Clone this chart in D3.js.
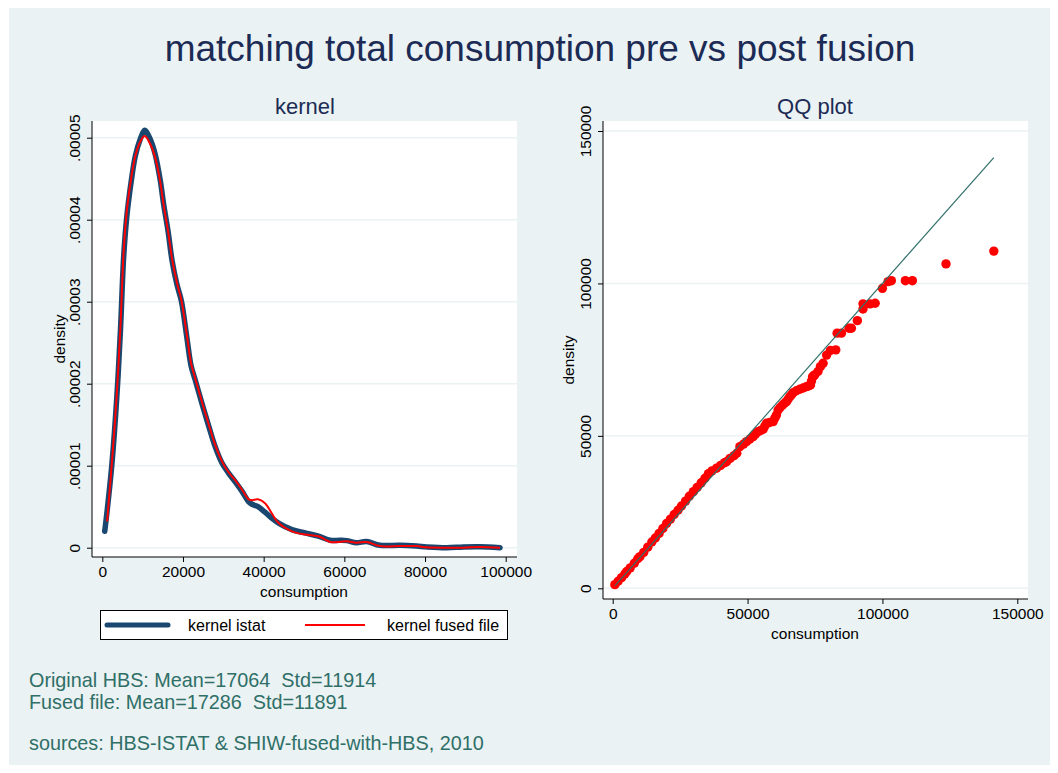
<!DOCTYPE html>
<html lang="en">
<head>
<meta charset="UTF-8">
<title>matching total consumption pre vs post fusion</title>
<script src="https://d3js.org/d3.v7.min.js"></script>
<style>
  body { margin: 0; background: #fff; }
  svg { font-family: "Liberation Sans", Arial, sans-serif; }
</style>
</head>
<body>
<script>
// kernel densities (x in consumption, y in density units of 1e-5)
var kernelX = [600, 1200, 2400, 3600, 4500, 5300, 6100, 7200, 8200, 9400, 10500, 11900, 13100, 14400, 15200,
  16300, 17300, 18500, 19600, 21000, 22000, 23000, 24700, 26400, 28000, 29700, 31300, 33000, 34600, 36300,
  37100, 38600, 40400, 42000, 43700, 47000, 50300, 53600, 56500, 58900, 60600, 63000, 65500, 68800, 73800,
  77900, 80400, 85400, 89500, 93600, 98600];
var istatDens = [0.20, 0.45, 1.03, 1.84, 2.65, 3.55, 4.05, 4.48, 4.78, 4.98, 5.09, 4.98, 4.80, 4.47, 4.19,
  3.86, 3.50, 3.21, 3.01, 2.55, 2.22, 2.05, 1.76, 1.48, 1.23, 1.03, 0.91, 0.80, 0.69, 0.56,
  0.53, 0.50, 0.43, 0.36, 0.30, 0.22, 0.18, 0.14, 0.09, 0.09, 0.086, 0.06, 0.075, 0.03, 0.03,
  0.02, 0.01, 0.0, 0.01, 0.012, 0.0];
var fusedDens = [null, 0.32, 1.05, 1.88, 2.70, 3.62, 4.12, 4.52, 4.78, 4.95, 5.02, 4.92, 4.76, 4.45, 4.18,
  3.86, 3.52, 3.23, 3.02, 2.58, 2.25, 2.07, 1.78, 1.50, 1.25, 1.05, 0.92, 0.82, 0.71, 0.59,
  0.58, 0.59, 0.54, 0.42, 0.30, 0.20, 0.16, 0.14, 0.07, 0.07, 0.08, 0.06, 0.07, 0.02, 0.02,
  0.02, 0.005, 0.0, 0.0, 0.01, 0.0];

// QQ plot quantiles
var qqX = [800, 2000, 3300, 4500, 5200, 6500, 8000, 9300, 10100, 11500, 13000, 14500, 15800, 17200, 18600,
  20000, 21400, 22800, 24200, 25500, 27000, 28400, 29900, 31300, 32800, 34200, 35500, 36800, 38500, 40000,
  41500, 42200, 43500, 45000, 46000, 47150, 48500, 49600, 50800, 52080, 53000, 53930, 54900, 55800, 56400,
  57000, 58200, 59480, 60100, 60700, 61330, 62100, 62960, 63700, 64440, 65000, 65670, 66300, 66900, 68100,
  69370, 70600, 71850, 72600, 73330, 73700, 74100, 74500, 74900, 76100, 77000, 78000, 79300, 80700, 82700,
  83200, 84800, 87600, 88500, 90700, 92800, 92800, 95400, 97300, 100000, 102100, 103300, 108500, 111100,
  123560, 141300];
var qqY = [1200, 2300, 3500, 4700, 5500, 6700, 8200, 9700, 10400, 11800, 13500, 15200, 16500, 18000, 19600,
  21300, 22700, 24200, 25600, 27000, 28600, 30200, 31700, 33100, 34600, 36100, 37600, 38500, 39400, 40300,
  41200, 41500, 42600, 43500, 44300, 46460, 47300, 48100, 48900, 49740, 50600, 51380, 51800, 52160, 53200,
  54130, 54400, 54670, 55800, 56860, 58490, 59300, 60130, 60700, 61220, 62000, 62870, 63500, 64180, 64800,
  65290, 65700, 66150, 66400, 66700, 68000, 69400, 69700, 70000, 71100, 72700, 73800, 76500, 78000, 78200,
  83700, 83700, 85300, 85300, 87800, 91600, 93300, 93300, 93500, 98400, 100600, 100900, 100900, 100900,
  106400, 110600];

var leftXTicks = [0, 20000, 40000, 60000, 80000, 100000];
var leftYTicks = [0, 0.00001, 0.00002, 0.00003, 0.00004, 0.00005];
var rightTicks = [0, 50000, 100000, 150000];
var legendLabels = ["kernel istat", "kernel fused file"];
var notes = ["Original HBS: Mean=17064  Std=11914", "Fused file: Mean=17286  Std=11891"];
var source = "sources: HBS-ISTAT & SHIW-fused-with-HBS, 2010";

var W = 1058, H = 773;
var navy = "#1a476f", red = "#ff0000", teal = "#2f6f68", bg = "#eaf2f3";

var svg = d3.select("body").append("svg").attr("width", W).attr("height", H);

svg.append("rect").attr("x", 9).attr("y", 8).attr("width", 1041).attr("height", 757).attr("fill", bg);

svg.append("text").attr("x", 540).attr("y", 61).attr("text-anchor", "middle")
  .attr("font-size", 37).attr("fill", "#1c2b55")
  .text("matching total consumption pre vs post fusion");

// ---------- left panel: kernel ----------
var L = {x0: 92, x1: 517, y0: 121, y1: 557};
var xL = d3.scaleLinear().domain([0, 100000]).range([102.3, 505.7]);
var yL = d3.scaleLinear().domain([0, 0.00005]).range([547.7, 137.7]);

var gl = svg.append("g");
gl.append("rect").attr("x", L.x0).attr("y", L.y0).attr("width", L.x1 - L.x0).attr("height", L.y1 - L.y0).attr("fill", "#fff");
gl.selectAll("line.grid").data(leftYTicks).enter().append("line")
  .attr("x1", L.x0).attr("x2", L.x1).attr("y1", function(d){ return yL(d); }).attr("y2", function(d){ return yL(d); })
  .attr("stroke", bg).attr("stroke-width", 1.5);

var fmtDens = function(d){ return d === 0 ? "0" : d3.format(".5f")(d).replace(/^0/, ""); };

var axL = gl.append("g").attr("transform", "translate(" + L.x0 + ",0)")
  .call(d3.axisLeft(yL).tickValues(leftYTicks).tickSize(5).tickSizeOuter(0).tickFormat(fmtDens));
axL.selectAll("text").attr("transform", "rotate(-90)").attr("x", 0).attr("y", -12).attr("dy", 0)
  .attr("text-anchor", "middle");
var axLB = gl.append("g").attr("transform", "translate(0," + L.y1 + ")")
  .call(d3.axisBottom(xL).tickValues(leftXTicks).tickSize(5).tickSizeOuter(0).tickFormat(d3.format("d")));
axLB.selectAll("text").attr("y", 9).attr("dy", "0.71em");
[axL, axLB].forEach(function(a){
  a.select(".domain").remove();
  a.selectAll("text").attr("font-size", 15.5).attr("font-family", "Liberation Sans, Arial, sans-serif").attr("fill", "#000");
  a.selectAll("line").attr("stroke", "#000");
});
gl.append("line").attr("x1", L.x0).attr("x2", L.x0).attr("y1", L.y0).attr("y2", L.y1).attr("stroke", "#000");
gl.append("line").attr("x1", L.x0).attr("x2", L.x1).attr("y1", L.y1).attr("y2", L.y1).attr("stroke", "#000");

var idx = d3.range(kernelX.length);
var lineIstat = d3.line().curve(d3.curveCatmullRom)
  .x(function(i){ return xL(kernelX[i]); }).y(function(i){ return yL(istatDens[i] * 1e-5); });
var lineFused = d3.line().curve(d3.curveCatmullRom)
  .defined(function(i){ return fusedDens[i] !== null; })
  .x(function(i){ return xL(kernelX[i]); }).y(function(i){ return yL(fusedDens[i] * 1e-5); });
gl.append("path").attr("d", lineIstat(idx)).attr("fill", "none").attr("stroke", navy).attr("stroke-width", 5.5)
  .attr("stroke-linejoin", "round").attr("stroke-linecap", "round");
gl.append("path").attr("d", lineFused(idx)).attr("fill", "none").attr("stroke", red).attr("stroke-width", 2);

gl.append("text").attr("x", 305).attr("y", 114).attr("text-anchor", "middle").attr("font-size", 22)
  .attr("fill", "#1c2b55").text("kernel");
gl.append("text").attr("x", xL(50000)).attr("y", 597).attr("text-anchor", "middle").attr("font-size", 15.5)
  .text("consumption");
gl.append("text").attr("transform", "translate(65,339) rotate(-90)").attr("text-anchor", "middle")
  .attr("font-size", 15.5).text("density");

// legend
var lg = svg.append("g");
lg.append("rect").attr("x", 100.5).attr("y", 610.5).attr("width", 407).attr("height", 29).attr("fill", "#fff")
  .attr("stroke", "#000").attr("stroke-width", 1);
var legendItems = [{c: navy, w: 5, x1: 107, x2: 168, tx: 188}, {c: red, w: 2, x1: 305, x2: 365, tx: 387}];
lg.selectAll("line.key").data(legendItems).enter().append("line")
  .attr("x1", function(d){ return d.x1; }).attr("x2", function(d){ return d.x2; })
  .attr("y1", 625).attr("y2", 625).attr("stroke", function(d){ return d.c; })
  .attr("stroke-width", function(d){ return d.w; }).attr("stroke-linecap", function(d){ return d.w > 3 ? "round" : "butt"; });
lg.selectAll("text.key").data(legendItems).enter().append("text")
  .attr("x", function(d){ return d.tx; }).attr("y", 631).attr("font-size", 16)
  .text(function(d, i){ return legendLabels[i]; });

// ---------- right panel: QQ ----------
var R = {x0: 603, x1: 1028, y0: 121, y1: 599};
var xR = d3.scaleLinear().domain([0, 150000]).range([612.7, 1017.3]);
var yR = d3.scaleLinear().domain([0, 150000]).range([588.3, 131]);

var gr = svg.append("g");
gr.append("rect").attr("x", R.x0).attr("y", R.y0).attr("width", R.x1 - R.x0).attr("height", R.y1 - R.y0).attr("fill", "#fff");
gr.selectAll("line.grid").data(rightTicks).enter().append("line")
  .attr("x1", R.x0).attr("x2", R.x1).attr("y1", function(d){ return yR(d); }).attr("y2", function(d){ return yR(d); })
  .attr("stroke", bg).attr("stroke-width", 1.5);

var axR = gr.append("g").attr("transform", "translate(" + R.x0 + ",0)")
  .call(d3.axisLeft(yR).tickValues(rightTicks).tickSize(5).tickSizeOuter(0).tickFormat(d3.format("d")));
axR.selectAll("text").attr("transform", "rotate(-90)").attr("x", 0).attr("y", -12).attr("dy", 0)
  .attr("text-anchor", "middle");
var axRB = gr.append("g").attr("transform", "translate(0," + R.y1 + ")")
  .call(d3.axisBottom(xR).tickValues(rightTicks).tickSize(5).tickSizeOuter(0).tickFormat(d3.format("d")));
axRB.selectAll("text").attr("y", 9).attr("dy", "0.71em");
[axR, axRB].forEach(function(a){
  a.select(".domain").remove();
  a.selectAll("text").attr("font-size", 15.5).attr("font-family", "Liberation Sans, Arial, sans-serif").attr("fill", "#000");
  a.selectAll("line").attr("stroke", "#000");
});
gr.append("line").attr("x1", R.x0).attr("x2", R.x0).attr("y1", R.y0).attr("y2", R.y1).attr("stroke", "#000");
gr.append("line").attr("x1", R.x0).attr("x2", R.x1).attr("y1", R.y1).attr("y2", R.y1).attr("stroke", "#000");

gr.selectAll("circle").data(qqX).enter().append("circle")
  .attr("cx", function(d){ return xR(d); }).attr("cy", function(d, i){ return yR(qqY[i]); })
  .attr("r", 4.7).attr("fill", red);

var qMin = d3.min(qqX), qMax = d3.max(qqX);
gr.append("line").attr("x1", xR(qMin)).attr("y1", yR(qMin)).attr("x2", xR(qMax)).attr("y2", yR(qMax))
  .attr("stroke", teal).attr("stroke-width", 1.2);

gr.append("text").attr("x", 815).attr("y", 114).attr("text-anchor", "middle").attr("font-size", 22)
  .attr("fill", "#1c2b55").text("QQ plot");
gr.append("text").attr("x", xR(75000)).attr("y", 639).attr("text-anchor", "middle").attr("font-size", 15.5)
  .text("consumption");
gr.append("text").attr("transform", "translate(574,360) rotate(-90)").attr("text-anchor", "middle")
  .attr("font-size", 15.5).text("density");

// ---------- notes ----------
svg.selectAll("text.note").data(notes).enter().append("text")
  .attr("x", 29).attr("y", function(d, i){ return 687 + i * 21.6; })
  .attr("font-size", 19.8).attr("fill", teal).text(function(d){ return d; }).style("white-space", "pre");
svg.append("text").attr("x", 29).attr("y", 750).attr("font-size", 19.8).attr("fill", teal).text(source);
</script>
</body>
</html>
